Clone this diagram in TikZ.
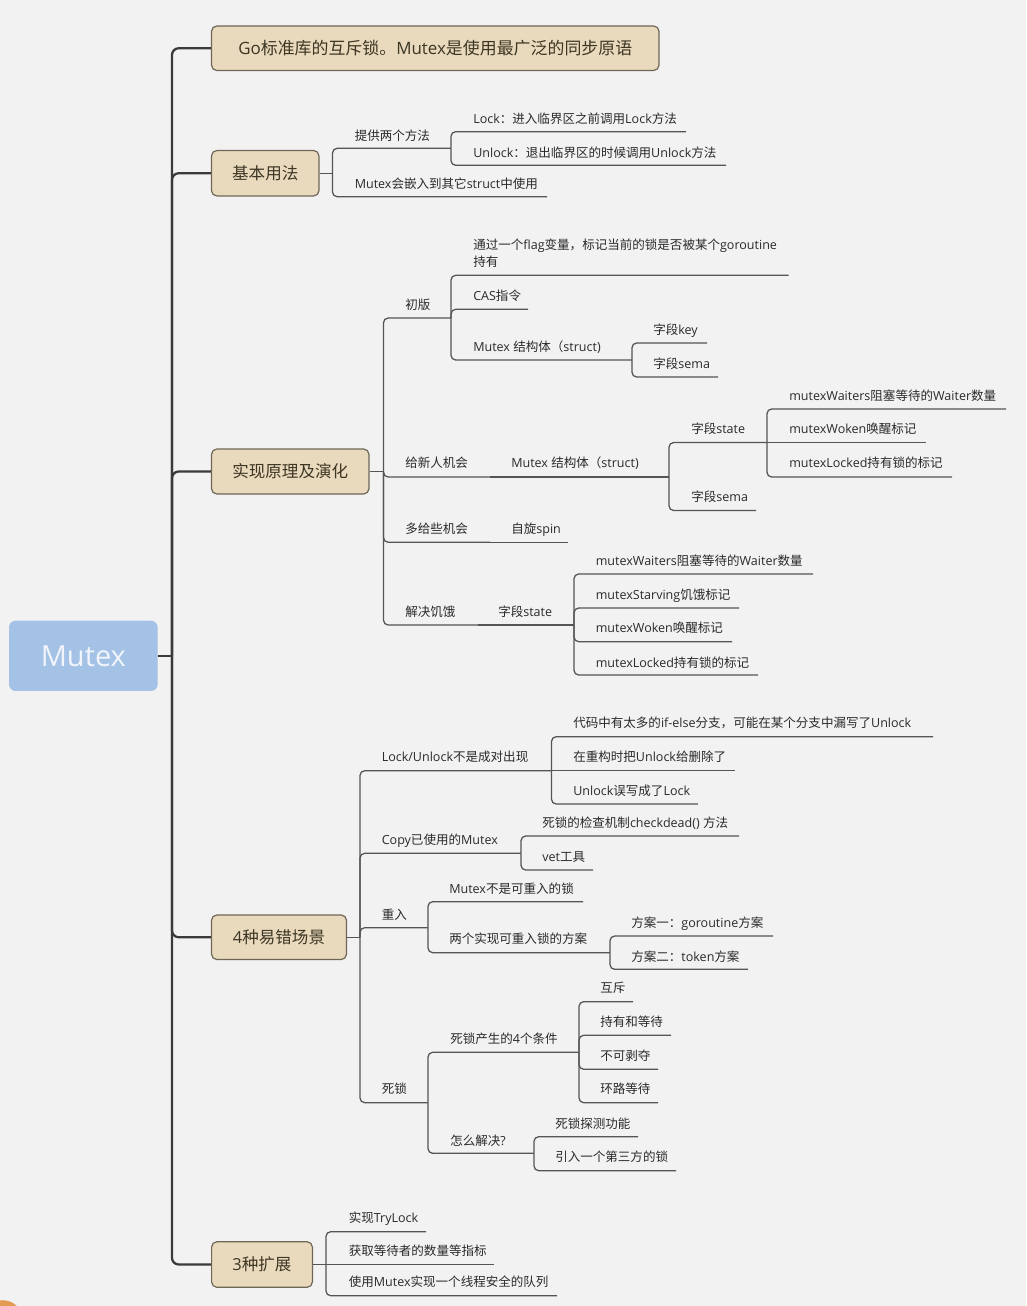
\documentclass[tikz,border=0pt]{standalone}
\usepackage{fontspec}
\setmainfont{Open Sans}
\newfontfamily\cjkfont{Noto Sans CJK SC}
\XeTeXinterchartokenstate=1
\newXeTeXintercharclass\cjkclass
\newcount\cjkcnt
\cjkcnt="4E00
\loop \XeTeXcharclass\cjkcnt=\cjkclass \advance\cjkcnt by 1 \ifnum\cjkcnt<"A000 \repeat
\cjkcnt="3000
\loop \XeTeXcharclass\cjkcnt=\cjkclass \advance\cjkcnt by 1 \ifnum\cjkcnt<"3040 \repeat
\cjkcnt="FF00
\loop \XeTeXcharclass\cjkcnt=\cjkclass \advance\cjkcnt by 1 \ifnum\cjkcnt<"FFF0 \repeat
\XeTeXinterchartoks 0 \cjkclass = {\begingroup\cjkfont}
\XeTeXinterchartoks 4095 \cjkclass = {\begingroup\cjkfont}
\XeTeXinterchartoks \cjkclass 0 = {\endgroup}
\XeTeXinterchartoks \cjkclass 4095 = {\endgroup}

\definecolor{bg}{HTML}{F2F2F2}
\definecolor{trunkc}{HTML}{3A3A3A}
\definecolor{linec}{HTML}{555555}
\definecolor{boxfill}{HTML}{E9D9BD}
\definecolor{boxline}{HTML}{6F6756}
\definecolor{boxtext}{HTML}{3C3624}
\definecolor{leaftext}{HTML}{2A2A2A}
\definecolor{rootfill}{HTML}{A4C2E5}
\definecolor{roottext}{HTML}{F1F5FB}
\definecolor{orangec}{HTML}{E39A52}

\tikzset{
  trunk/.style={draw=trunkc, line width=1.7pt, rounded corners=5pt},
  branch/.style={draw=linec, line width=0.95pt, rounded corners=3.5pt},
  topic/.style={draw=boxline, fill=boxfill, line width=0.9pt, rounded corners=4pt,
    text=boxtext, font=\fontsize{12.4pt}{15pt}\selectfont, inner sep=0pt},
  rootbox/.style={fill=rootfill, rounded corners=5pt, text=roottext,
    font=\fontsize{21.75pt}{26pt}\selectfont, inner sep=0pt,
    minimum width=111.5pt, minimum height=52.7pt},
  leaf/.style={anchor=base west, inner sep=0pt, text=leaftext,
    font=\fontsize{9.4pt}{13pt}\selectfont},
}
\newcommand\mleaf[6]{\node[leaf] (#1) at (#2,#3+4.6) {#6};
  \coordinate (#1-u) at (#4,#5);}

\begin{document}
\begin{tikzpicture}[x=0.75pt,y=-0.75pt]
\useasboundingbox (0,0) rectangle (1026,1306);
\fill[bg] (0,0) rectangle (1026,1306);
\fill[orangec] (3,1319.5) circle[radius=19.3];

% root and main topics
\node[rootbox] (root) at (83.35,655.85) {Mutex};
\node[topic, minimum width=335.6pt, minimum height=33.4pt, font=\fontsize{12.7pt}{15pt}\selectfont] (title) at (435.25,48.25) {Go标准库的互斥锁。Mutex是使用最广泛的同步原语};
\node[topic, minimum width=80.6pt, minimum height=34.1pt] (basic) at (265.25,173.25) {基本用法};
\node[topic, minimum width=118.1pt, minimum height=33.75pt] (impl) at (290.25,471.5) {实现原理及演化};
\node[topic, minimum width=101.25pt, minimum height=33.4pt] (err) at (279,937.25) {4种易错场景};
\node[topic, minimum width=75.6pt, minimum height=34.2pt] (ext) at (262,1264.5) {3种扩展};

\coordinate (T) at (172,655.85);
\draw[trunk] (root.east) -- (T);
\draw[trunk] (T) |- (title.west);
\draw[trunk] (T) |- (basic.west);
\draw[trunk] (T) |- (impl.west);
\draw[trunk] (T) |- (err.west);
\draw[trunk] (T) |- (ext.west);

% ---- basic usage
\coordinate (basicJ) at (332.5,173.25);
\mleaf{b1}{354.5}{135.5}{451}{148.3}{提供两个方法}
\mleaf{b11}{473}{118.5}{686}{131.7}{Lock：进入临界区之前调用Lock方法}
\mleaf{b12}{473}{152.5}{726}{165.3}{Unlock：退出临界区的时候调用Unlock方法}
\mleaf{b2}{354.5}{184}{547}{196.7}{Mutex会嵌入到其它struct中使用}
\draw[branch] (basic.east) -- (basicJ);
\draw[branch] (basicJ) |- (b1-u);
\draw[branch] (basicJ) |- (b2-u);
\draw[branch] (b1-u) |- (b11-u);
\draw[branch] (b1-u) |- (b12-u);

% ---- implementation
\coordinate (implJ) at (383.5,471.5);
\mleaf{r1}{405}{305}{451}{318}{初版}
\node[leaf, align=left] (r11) at (473,266.9) {通过一个flag变量，标记当前的锁是否被某个goroutine\\持有};
\coordinate (r11-u) at (788.5,275.3);
\mleaf{r12}{473}{296}{528}{309.3}{CAS指令}
\mleaf{r13}{473}{347}{632}{360}{Mutex 结构体（struct)}
\mleaf{r131}{653}{330}{707}{343}{字段key}
\mleaf{r132}{653}{364}{718}{377}{字段sema}
\mleaf{r2}{405}{463}{490}{477}{给新人机会}
\mleaf{r21}{511}{463}{669}{477}{Mutex 结构体（struct)}
\mleaf{r211}{691}{429}{767}{442.5}{字段state}
\mleaf{r2111}{789}{395.5}{1006}{409}{mutexWaiters阻塞等待的Waiter数量}
\mleaf{r2112}{789}{429}{926}{442.5}{mutexWoken唤醒标记}
\mleaf{r2113}{789}{463}{952}{477}{mutexLocked持有锁的标记}
\mleaf{r212}{691}{497}{756}{510.5}{字段sema}
\mleaf{r3}{405}{529}{490}{542.3}{多给些机会}
\mleaf{r31}{511}{529}{568}{542.3}{自旋spin}
\mleaf{r4}{405}{611.7}{478}{625}{解决饥饿}
\mleaf{r41}{498}{611.7}{574}{625}{字段state}
\mleaf{r411}{595.5}{561}{813}{574}{mutexWaiters阻塞等待的Waiter数量}
\mleaf{r412}{595.5}{595}{739}{608}{mutexStarving饥饿标记}
\mleaf{r413}{595.5}{628.3}{732}{641.7}{mutexWoken唤醒标记}
\mleaf{r414}{595.5}{662.5}{758}{675}{mutexLocked持有锁的标记}
\draw[branch] (impl.east) -- (implJ);
\draw[branch] (implJ) |- (r1-u);
\draw[branch] (implJ) |- (r2-u);
\draw[branch] (implJ) |- (r3-u);
\draw[branch] (implJ) |- (r4-u);
\draw[branch] (r1-u) |- (r11-u);
\draw[branch] (r1-u) |- (r12-u);
\draw[branch] (r1-u) |- (r13-u);
\draw[branch] (r13-u) |- (r131-u);
\draw[branch] (r13-u) |- (r132-u);
\draw[branch] (r2-u) -- (r21-u);
\draw[branch] (r21-u) |- (r211-u);
\draw[branch] (r21-u) |- (r212-u);
\draw[branch] (r211-u) |- (r2111-u);
\draw[branch] (r211-u) -- (r2112-u);
\draw[branch] (r211-u) |- (r2113-u);
\draw[branch] (r3-u) -- (r31-u);
\draw[branch] (r4-u) -- (r41-u);
\draw[branch] (r41-u) |- (r411-u);
\draw[branch] (r41-u) |- (r412-u);
\draw[branch] (r41-u) |- (r413-u);
\draw[branch] (r41-u) |- (r414-u);

% ---- error-prone scenarios
\coordinate (errJ) at (360,937.25);
\mleaf{e1}{381.5}{757.3}{551.5}{770.7}{Lock/Unlock不是成对出现}
\mleaf{e11}{573}{723.3}{933}{736.7}{代码中有太多的if-else分支，可能在某个分支中漏写了Unlock}
\mleaf{e12}{573}{757.3}{735}{770.7}{在重构时把Unlock给删除了}
\mleaf{e13}{573}{790.7}{698}{804}{Unlock误写成了Lock}
\mleaf{e2}{381.5}{840}{521}{853.3}{Copy已使用的Mutex}
\mleaf{e21}{542}{823}{739}{836}{死锁的检查机制checkdead() 方法}
\mleaf{e22}{542}{856.7}{593}{870}{vet工具}
\mleaf{e3}{381.5}{914.5}{428}{927.7}{重入}
\mleaf{e31}{449}{888.5}{583}{901.7}{Mutex不是可重入的锁}
\mleaf{e32}{449}{939.3}{610}{952.7}{两个实现可重入锁的方案}
\mleaf{e321}{631}{922.7}{773}{936}{方案一：goroutine方案}
\mleaf{e322}{631}{956.5}{748}{969.3}{方案二：token方案}
\mleaf{e4}{381.5}{1089}{428}{1102.7}{死锁}
\mleaf{e41}{450}{1039}{579}{1052.3}{死锁产生的4个条件}
\mleaf{e411}{600}{988.3}{633}{1001.7}{互斥}
\mleaf{e412}{600}{1021.7}{671}{1035.3}{持有和等待}
\mleaf{e413}{600}{1056}{658}{1069.3}{不可剥夺}
\mleaf{e414}{600}{1089}{658}{1102.7}{环路等待}
\mleaf{e42}{450}{1141}{534}{1153.3}{怎么解决?}
\mleaf{e421}{555}{1124}{638}{1136.7}{死锁探测功能}
\mleaf{e422}{555}{1157.3}{676}{1170.7}{引入一个第三方的锁}
\draw[branch] (err.east) -- (errJ);
\draw[branch] (errJ) |- (e1-u);
\draw[branch] (errJ) |- (e2-u);
\draw[branch] (errJ) |- (e3-u);
\draw[branch] (errJ) |- (e4-u);
\draw[branch] (e1-u) |- (e11-u);
\draw[branch] (e1-u) -- (e12-u);
\draw[branch] (e1-u) |- (e13-u);
\draw[branch] (e2-u) |- (e21-u);
\draw[branch] (e2-u) |- (e22-u);
\draw[branch] (e3-u) |- (e31-u);
\draw[branch] (e3-u) |- (e32-u);
\draw[branch] (e32-u) |- (e321-u);
\draw[branch] (e32-u) |- (e322-u);
\draw[branch] (e4-u) |- (e41-u);
\draw[branch] (e4-u) |- (e42-u);
\draw[branch] (e41-u) |- (e411-u);
\draw[branch] (e41-u) |- (e412-u);
\draw[branch] (e41-u) |- (e413-u);
\draw[branch] (e41-u) |- (e414-u);
\draw[branch] (e42-u) |- (e421-u);
\draw[branch] (e42-u) |- (e422-u);

% ---- extensions
\coordinate (extJ) at (326,1264.5);
\mleaf{x1}{348.5}{1218.3}{426}{1231.7}{实现TryLock}
\mleaf{x2}{348.5}{1251}{494}{1264.5}{获取等待者的数量等指标}
\mleaf{x3}{348.5}{1282.3}{557}{1295.7}{使用Mutex实现一个线程安全的队列}
\draw[branch] (ext.east) -- (extJ);
\draw[branch] (extJ) |- (x1-u);
\draw[branch] (extJ) -- (x2-u);
\draw[branch] (extJ) |- (x3-u);
\end{tikzpicture}
\end{document}
